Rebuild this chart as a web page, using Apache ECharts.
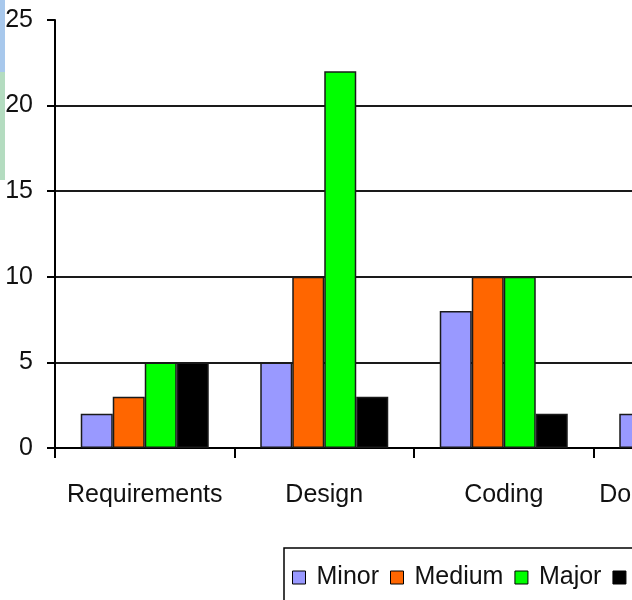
<!DOCTYPE html>
<html>
<head>
<meta charset="utf-8">
<script src="https://cdn.jsdelivr.net/npm/echarts@6/dist/echarts.min.js"></script>
<style>
  html, body { margin: 0; padding: 0; width: 632px; height: 600px; overflow: hidden; background: #fff; }
  #chart { width: 1000px; height: 700px; }
</style>
</head>
<body>
<div id="chart"></div>
<script>
const categories = ['Requirements', 'Design', 'Coding', 'Documentation'];
const seriesNames = ['Minor', 'Medium', 'Major', 'Critical'];
const minorValues = [2, 5, 8, 2];
const mediumValues = [3, 10, 10, 3];
const majorValues = [5, 22, 10, 1];
const criticalValues = [5, 3, 2, 1];
const yTicks = [0, 5, 10, 15, 20, 25];

const FONT = "'Liberation Sans', Arial, sans-serif";
const colors = ['#9999ff', '#ff6600', '#00ff00', '#000000'];
const values = [minorValues, mediumValues, majorValues, criticalValues];

const chart = echarts.init(document.getElementById('chart'), null, { renderer: 'canvas' });
chart.setOption({
  animation: false,
  backgroundColor: '#ffffff',
  textStyle: { fontFamily: FONT },
  graphic: [
    { type: 'rect', left: 0, top: 0, shape: { width: 5, height: 72 }, style: { fill: '#a8c8ec' }, silent: true },
    { type: 'rect', left: 0, top: 72, shape: { width: 5, height: 108 }, style: { fill: '#b4dcc0' }, silent: true }
  ],
  grid: { left: 55, top: 20, width: 718, height: 428, containLabel: false, outerBoundsMode: 'none' },
  legend: {
    left: 284, top: 548,
    orient: 'horizontal',
    data: seriesNames,
    icon: 'rect',
    itemWidth: 13, itemHeight: 13,
    itemGap: 11,
    padding: [17, 10, 30, 8],
    borderColor: '#000', borderWidth: 1.5,
    itemStyle: { borderColor: '#000', borderWidth: 1 },
    textStyle: { fontFamily: FONT, fontSize: 25, color: '#111', padding: [0, 0, 0, 6] }
  },
  xAxis: {
    type: 'category',
    data: categories,
    boundaryGap: true,
    axisLine: { show: true, lineStyle: { color: '#000', width: 2 } },
    axisTick: { show: true, alignWithLabel: false, length: 10, lineStyle: { color: '#000', width: 2 } },
    axisLabel: { fontFamily: FONT, fontSize: 25, color: '#111', margin: 35, interval: 0 },
    splitLine: { show: false }
  },
  yAxis: {
    type: 'value',
    min: yTicks[0], max: yTicks[yTicks.length - 1], interval: 5,
    axisLine: { show: true, lineStyle: { color: '#000', width: 2 } },
    axisTick: { show: true, inside: false, length: 8, lineStyle: { color: '#000', width: 2 } },
    axisLabel: { fontFamily: FONT, fontSize: 25, color: '#111', margin: 22 },
    splitLine: { show: true, showMaxLine: false, showMinLine: false, lineStyle: { color: '#1a1a1a', width: 2 } }
  },
  series: seriesNames.map((name, i) => ({
    name: name,
    type: 'bar',
    data: values[i],
    barWidth: 32,
    barGap: '0%',
    barCategoryGap: '30%',
    itemStyle: { color: colors[i], borderColor: '#1a1a1a', borderWidth: 1.5 }
  }))
});
</script>
</body>
</html>
